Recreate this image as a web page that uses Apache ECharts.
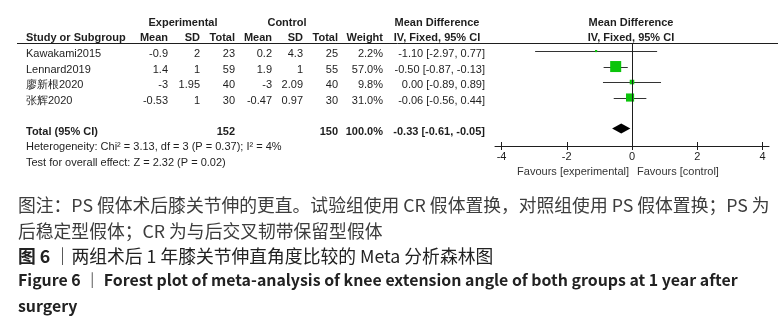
<!DOCTYPE html>
<html>
<head>
<meta charset="utf-8">
<script src="https://cdn.jsdelivr.net/npm/echarts@6/dist/echarts.min.js"></script>
<style>
  html, body { margin: 0; padding: 0; background: #fff; }
  #box { width: 784px; height: 324px; }
</style>
</head>
<body>
<div id="box"></div>
<script>
// study data
var studies = ['Kawakami2015', 'Lennard2019', '廖新根2020', '张辉2020'];
var expMean = [-0.9, 1.4, -3, -0.53];
var expSD = [2, 1, 1.95, 1];
var expN = [23, 59, 40, 30];
var ctlMean = [0.2, 1.9, -3, -0.47];
var ctlSD = [4.3, 1, 2.09, 0.97];
var ctlN = [25, 55, 40, 30];
var weight = [2.2, 57.0, 9.8, 31.0];
var md = [-1.10, -0.50, 0.00, -0.06];
var ciLow = [-2.97, -0.87, -0.89, -0.56];
var ciHigh = [0.77, -0.13, 0.89, 0.44];

var totalExpN = 152;
var totalCtlN = 150;
var totalWeight = 100.0;
var totalMd = -0.33;
var totalLow = -0.61;
var totalHigh = -0.05;
var heterogeneity = 'Heterogeneity: Chi² = 3.13, df = 3 (P = 0.37); I² = 4%';
var overallTest = 'Test for overall effect: Z = 2.32 (P = 0.02)';

var xTicks = [-4, -2, 0, 2, 4];
var noEffect = 0;

var chart = echarts.init(document.getElementById('box'));

var ARIAL = '"Liberation Sans", Arial, sans-serif';
var CJK = '"Noto Sans CJK SC", sans-serif';
var INK = '#1e1e1e';
var colRight = [168, 200, 235, 272, 303, 338, 383, 485]; // table columns (right edge)
var studyLeft = 26;
var totalRow = 5;
var xMin = -4.2, xMax = 4.2;
var yMin = -0.52, yMax = 6.13;
var gridBox = { left: 495, right: 15, top: 43, bottom: 178 };
var W = 784, H = 324;

function ciText(m, lo, hi) {
  return m.toFixed(2) + ' [' + lo.toFixed(2) + ', ' + hi.toFixed(2) + ']';
}

// text rows for the table, tied to the same y axis as the plot
var tableRows = studies.map(function (s, i) {
  return {
    row: i, bold: false,
    cells: [s, String(expMean[i]), String(expSD[i]), String(expN[i]),
      String(ctlMean[i]), String(ctlSD[i]), String(ctlN[i]),
      weight[i].toFixed(1) + '%', ciText(md[i], ciLow[i], ciHigh[i])]
  };
});
tableRows.push({
  row: totalRow, bold: true,
  cells: ['Total (95% CI)', '', '', String(totalExpN), '', '', String(totalCtlN),
    totalWeight.toFixed(1) + '%', ciText(totalMd, totalLow, totalHigh)]
});
tableRows.push({ row: 6, bold: false, cells: [heterogeneity] });
tableRows.push({ row: 7, bold: false, cells: [overallTest] });

function txt(x, y, s, align, bold, size, font, color) {
  return {
    type: 'text', x: x, y: y,
    style: {
      text: s, fill: color || INK, align: align, verticalAlign: 'middle',
      fontSize: size || 11, fontFamily: font || ARIAL, fontWeight: bold ? 'bold' : 'normal'
    }
  };
}

// line of no effect, placed on the x scale of the plot grid
var plotW = W - gridBox.left - gridBox.right;
var zeroX = Math.round(gridBox.left + (noEffect - xMin) / (xMax - xMin) * plotW) + 0.5;

var option = {
  backgroundColor: '#fff',
  animation: false,
  grid: gridBox,
  xAxis: [{
    type: 'value', min: xMin, max: xMax,
    axisLine: { show: true, onZero: false, lineStyle: { color: INK, width: 1 } },
    axisTick: { show: true, length: 4, customValues: xTicks, lineStyle: { color: INK } },
    axisLabel: { customValues: xTicks, margin: 5, fontSize: 11, color: INK, fontFamily: ARIAL },
    splitLine: { show: false }
  }, {
    type: 'value', min: xMin, max: xMax, position: 'bottom',
    axisLine: { show: false, onZero: false },
    axisTick: { show: true, inside: true, length: 4, customValues: xTicks, lineStyle: { color: INK } },
    axisLabel: { show: false },
    splitLine: { show: false }
  }],
  yAxis: { type: 'value', inverse: true, min: yMin, max: yMax, show: false },
  series: [
    {
      // confidence intervals
      type: 'custom', name: 'ci', clip: false,
      encode: { x: [0, 1], y: 2 },
      data: studies.map(function (s, i) { return [ciLow[i], ciHigh[i], i]; }),
      renderItem: function (params, api) {
        var l = api.coord([api.value(0), api.value(2)]);
        var h = api.coord([api.value(1), api.value(2)]);
        var y = Math.round(l[1]) + 0.5;
        return { type: 'line', shape: { x1: l[0], y1: y, x2: h[0], y2: y }, style: { stroke: '#333', lineWidth: 1 } };
      }
    },
    {
      // point estimates, square area follows weight
      type: 'scatter', name: 'md',
      symbol: 'rect',
      data: studies.map(function (s, i) { return [md[i], i, weight[i]]; }),
      symbolSize: function (val) { return 1.46 * Math.sqrt(val[2]); },
      itemStyle: { color: '#0bc40b', opacity: 1 },
      z: 3
    },
    {
      type: 'custom', name: 'total', clip: false,
      encode: { x: [0, 2, 3], y: 1 },
      data: [[totalMd, totalRow, totalLow, totalHigh]],
      renderItem: function (params, api) {
        var c = api.coord([api.value(0), api.value(1)]);
        var l = api.coord([api.value(2), api.value(1)]);
        var h = api.coord([api.value(3), api.value(1)]);
        return {
          type: 'polygon',
          shape: { points: [[l[0], c[1]], [c[0], c[1] - 5], [h[0], c[1]], [c[0], c[1] + 5]] },
          style: { fill: '#000' }
        };
      }
    },
    {
      type: 'custom', name: 'table', clip: false, silent: true,
      encode: { x: 0, y: 1 },
      data: tableRows.map(function (r) { return [0, r.row]; }),
      renderItem: function (params, api) {
        var r = tableRows[params.dataIndex];
        var y = api.coord([0, api.value(1)])[1] + 3;
        var kids = [txt(studyLeft, y, r.cells[0], 'left', r.bold)];
        for (var k = 1; k < r.cells.length; k++) {
          if (r.cells[k]) kids.push(txt(colRight[k - 1], y, r.cells[k], 'right', r.bold));
        }
        return { type: 'group', children: kids };
      }
    }
  ],
  graphic: [
    // table headers
    txt(183, 23, 'Experimental', 'center', true),
    txt(287, 23, 'Control', 'center', true),
    txt(437, 23, 'Mean Difference', 'center', true),
    txt(631, 23, 'Mean Difference', 'center', true),
    txt(studyLeft, 38, 'Study or Subgroup', 'left', true),
    txt(colRight[0], 38, 'Mean', 'right', true),
    txt(colRight[1], 38, 'SD', 'right', true),
    txt(colRight[2], 38, 'Total', 'right', true),
    txt(colRight[3], 38, 'Mean', 'right', true),
    txt(colRight[4], 38, 'SD', 'right', true),
    txt(colRight[5], 38, 'Total', 'right', true),
    txt(colRight[6], 38, 'Weight', 'right', true),
    txt(437, 38, 'IV, Fixed, 95% CI', 'center', true),
    txt(631, 38, 'IV, Fixed, 95% CI', 'center', true),
    { type: 'line', shape: { x1: 17, y1: 43.5, x2: 778, y2: 43.5 }, style: { stroke: INK, lineWidth: 1 } },
    // line of no effect
    { type: 'line', z: 5, shape: { x1: zeroX, y1: gridBox.top, x2: zeroX, y2: H - gridBox.bottom }, style: { stroke: INK, lineWidth: 1 } },
    // favours labels
    txt(629, 172, 'Favours [experimental]', 'right', false, 11, ARIAL, '#333'),
    txt(637, 172, 'Favours [control]', 'left', false, 11, ARIAL, '#333'),
    // caption
    txt(18, 205, '图注：PS 假体术后膝关节伸的更直。试验组使用 CR 假体置换，对照组使用 PS 假体置换；PS 为', 'left', false, 17.8, CJK, '#3c3c3c'),
    txt(18, 231, '后稳定型假体；CR 为与后交叉韧带保留型假体', 'left', false, 17.8, CJK, '#3c3c3c'),
    {
      type: 'text', x: 18, y: 256,
      style: {
        text: '{b|图 6} {n|｜两组术后 1 年膝关节伸直角度比较的 Meta 分析森林图}',
        verticalAlign: 'middle', align: 'left',
        rich: {
          b: { fontSize: 17.8, fontFamily: CJK, fontWeight: 'bold', fill: '#222' },
          n: { fontSize: 17.8, fontFamily: CJK, fontWeight: 'normal', fill: '#222' }
        }
      }
    },
    txt(18, 280, 'Figure 6 ｜ Forest plot of meta-analysis of knee extension angle of both groups at 1 year after', 'left', true, 15.9, CJK, '#222'),
    txt(18, 306, 'surgery', 'left', true, 15.9, CJK, '#222')
  ]
};

chart.setOption(option);
</script>
</body>
</html>
